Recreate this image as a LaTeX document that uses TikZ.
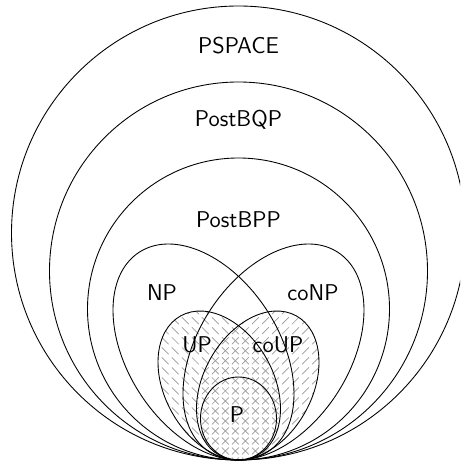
\documentclass[tikz,border=0pt]{standalone}
\usepackage{tikz}
\usetikzlibrary{patterns}
\pgfdeclarepatternformonly{upstrokes}{\pgfpoint{-1pt}{-1pt}}{\pgfpoint{6.7pt}{6.7pt}}{\pgfpoint{5.7pt}{5.7pt}}{%
  \pgfsetlinewidth{0.4pt}%
  \pgfpathmoveto{\pgfpoint{0.9pt}{4.8pt}}%
  \pgfpathlineto{\pgfpoint{4.8pt}{0.9pt}}%
  \pgfusepath{stroke}}
\pgfdeclarepatternformonly{coupstrokes}{\pgfpoint{-1pt}{-1pt}}{\pgfpoint{6.7pt}{6.7pt}}{\pgfpoint{5.7pt}{5.7pt}}{%
  \pgfsetlinewidth{0.4pt}%
  \pgfpathmoveto{\pgfpoint{0.9pt}{0.9pt}}%
  \pgfpathlineto{\pgfpoint{4.8pt}{4.8pt}}%
  \pgfusepath{stroke}}
\tikzset{classline/.style={draw=black,line width=0.5pt},
         classlabel/.style={anchor=base,font=\fontsize{13}{15}\selectfont\sffamily},
         hatchUP/.style={pattern=upstrokes,pattern color=gray!80},
         hatchcoUP/.style={pattern=coupstrokes,pattern color=gray!80}}
\begin{document}
\begin{tikzpicture}
\clip (-4.77,-0.12) rectangle (4.43,9.2);
% hatched classes
\fill[hatchUP,rotate around={28.95:(-0.385,1.49)}] (-0.385,1.49) ellipse [x radius=1.088,y radius=1.592];
\fill[hatchcoUP,rotate around={-28.95:(0.385,1.49)}] (0.385,1.49) ellipse [x radius=1.088,y radius=1.592];
% outer classes
\draw[classline] (0,4.54) circle (4.54);
\draw[classline] (0,3.78) circle (3.78);
\draw[classline] (0,3.02) circle (3.02);
% NP, coNP
\draw[classline,rotate around={32.7:(-0.70,2.16)}] (-0.70,2.16) ellipse [x radius=1.518,y radius=2.374];
\draw[classline,rotate around={-32.7:(0.70,2.16)}] (0.70,2.16) ellipse [x radius=1.518,y radius=2.374];
% UP, coUP
\draw[classline,rotate around={28.95:(-0.385,1.49)}] (-0.385,1.49) ellipse [x radius=1.088,y radius=1.592];
\draw[classline,rotate around={-28.95:(0.385,1.49)}] (0.385,1.49) ellipse [x radius=1.088,y radius=1.592];
% P
\draw[classline] (0,0.83) ellipse [x radius=0.76,y radius=0.83];
% labels
\node[classlabel] (pspace) at (0,8.13) {PSPACE};
\node[classlabel] (postbqp) at (0,6.67) {PostBQP};
\node[classlabel] (postbpp) at (0,4.65) {PostBPP};
\node[classlabel] (np) at (-1.53,3.18) {NP};
\node[classlabel] (conp) at (1.49,3.18) {coNP};
\node[classlabel] (up) at (-0.83,2.15) {UP};
\node[classlabel] (coup) at (0.79,2.15) {coUP};
\node[classlabel] (p) at (-0.03,0.75) {P};
\end{tikzpicture}
\end{document}
